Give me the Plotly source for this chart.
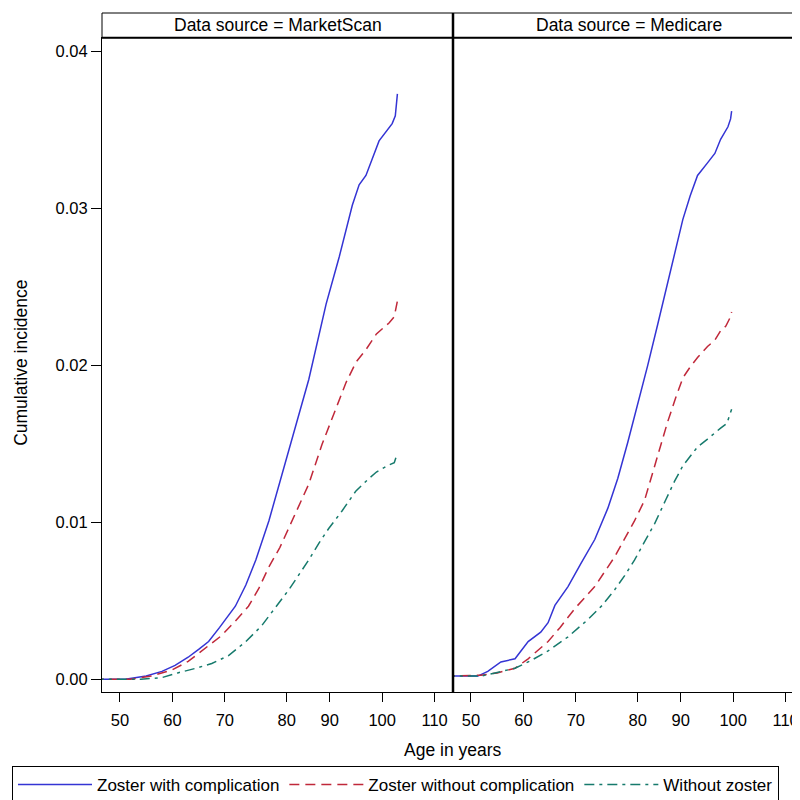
import plotly.graph_objects as go
from plotly.subplots import make_subplots

# ---------------- data ----------------
panels = ["MarketScan", "Medicare"]
series_names = ["Zoster with complication", "Zoster without complication", "Without zoster"]

# MarketScan
ms_blue_age = [45, 51, 55, 58, 60.5, 63, 65, 66.9, 69, 72, 74, 75.9, 78.4, 79.5, 82, 84, 86,
               89.3, 91.8, 94.3, 95.6, 96.9, 98.5, 99.4, 101.9, 102.5, 102.9]
ms_blue_val = [0, 0, 0.0002, 0.0005, 0.00088, 0.0014, 0.0019, 0.0024, 0.0033, 0.00465, 0.006,
               0.0076, 0.0101, 0.0114, 0.0144, 0.0168, 0.0191, 0.0239, 0.0269, 0.0302, 0.0315,
               0.0321, 0.0335, 0.0343, 0.0354, 0.0359, 0.0373]
ms_red_age = [45, 52, 56, 60, 63, 66, 69.3, 72, 74.5, 76.5, 78.4, 80.5, 82.2, 84, 86, 88.5,
              91.2, 93.1, 95, 96.9, 98.9, 101.3, 102.3, 102.9]
ms_red_val = [0, 0, 0.0002, 0.0006, 0.00113, 0.0019, 0.00276, 0.0037, 0.00465, 0.0058, 0.00716,
              0.0084, 0.00967, 0.011, 0.01243, 0.01494, 0.0172, 0.0189, 0.0202, 0.021, 0.0220,
              0.0227, 0.0231, 0.0241]
ms_green_age = [45, 54, 58, 61, 64.4, 67.5, 70.7, 74, 77, 79.5, 82.2, 84, 86, 88, 89.8, 92.3,
                93.7, 95, 97.5, 98.9, 101, 102.3, 102.9]
ms_green_val = [0, 0, 0.0001, 0.0004, 0.00069, 0.001, 0.0015, 0.0024, 0.0034, 0.0045, 0.0057,
                0.0066, 0.0076, 0.0087, 0.0096, 0.0107, 0.0114, 0.012, 0.0128, 0.0132, 0.0136,
                0.0138, 0.0144]

# Medicare
mc_blue_age = [45, 51.3, 53.2, 55.7, 58.4, 59.5, 60.9, 63.3, 64.7, 66, 68.5, 71, 73.6, 76.1, 78,
               79.9, 81.8, 83.7, 85.6, 87.5, 89, 90.4, 91.8, 93.2, 95.1, 96.5, 97.6, 99, 99.5, 99.7]
mc_blue_val = [0.0002, 0.0002, 0.0005, 0.0011, 0.0013, 0.0018, 0.0024, 0.003, 0.0036, 0.0047,
               0.0059, 0.0074, 0.0089, 0.0109, 0.0128, 0.0151, 0.0175, 0.0200, 0.0226, 0.0252,
               0.0273, 0.0293, 0.0308, 0.0321, 0.0329, 0.0335, 0.0344, 0.0352, 0.0357, 0.0362]
mc_red_age = [45, 51.9, 55, 58.4, 60.9, 64.7, 67, 69.8, 73.6, 77.4, 81.2, 83.1, 85.3, 87.5, 89,
              90.4, 91.8, 93.2, 95.1, 96.5, 97.6, 98.6, 99.5, 99.7]
mc_red_val = [0.0002, 0.00025, 0.0004, 0.0007, 0.0013, 0.0024, 0.0033, 0.0045, 0.0059, 0.0078,
              0.0101, 0.0114, 0.0139, 0.0164, 0.0179, 0.0192, 0.0199, 0.0205, 0.0212, 0.0216,
              0.0222, 0.0225, 0.0231, 0.0234]
mc_green_age = [45, 52, 54.6, 58.4, 61.5, 64.7, 68.5, 72.3, 75, 77.4, 79.3, 81.2, 83, 85, 87.1,
                88.8, 90.4, 91.8, 93.2, 95.1, 96.1, 97.6, 98.8, 99.7]
mc_green_val = [0.0002, 0.0002, 0.0004, 0.0007, 0.0012, 0.0018, 0.0027, 0.0038, 0.0047, 0.0057,
                0.0066, 0.0076, 0.0087, 0.0099, 0.0114, 0.0126, 0.0136, 0.0142, 0.0148, 0.0153,
                0.0156, 0.016, 0.0163, 0.0172]

x_tick_text = ["50", "60", "70", "80", "90", "100", "110"]
x_tick_pos = [50, 60, 70, 81.8, 90, 100, 110]
y_tick_vals = [0.00, 0.01, 0.02, 0.03, 0.04]
y_tick_text = ["0.00", "0.01", "0.02", "0.03", "0.04"]

# ---------------- style ----------------
colors = ["#3434D4", "#C0283A", "#167A6C"]
dashes = ["solid", "10px,6px", "10px,5px,3px,5px"]
FONT = "Liberation Sans, Arial, sans-serif"

W, H = 800, 800
ML, MR, MT, MB = 94, 4, 5, 106
plot_w = W - ML - MR
plot_h = H - MT - MB
header_px = 25
y_dom_top = (plot_h - header_px) / plot_h

fig = make_subplots(rows=1, cols=2, shared_yaxes=True, horizontal_spacing=0)

data = [
    [(ms_blue_age, ms_blue_val), (ms_red_age, ms_red_val), (ms_green_age, ms_green_val)],
    [(mc_blue_age, mc_blue_val), (mc_red_age, mc_red_val), (mc_green_age, mc_green_val)],
]

for p, panel in enumerate(data):
    for s, (xa, ya) in enumerate(panel):
        fig.add_trace(go.Scatter(
            x=xa, y=ya, mode="lines", name=series_names[s],
            line=dict(color=colors[s], width=1.5, dash=dashes[s]),
            showlegend=(p == 0), legendgroup=series_names[s],
        ), row=1, col=p + 1)

xrange = [46.57, 113.5]
yrange = [-0.000816, 0.04088]
axis_font = dict(family=FONT, size=16.5, color="#000")
for c in (1, 2):
    fig.update_xaxes(range=xrange, tickvals=x_tick_pos, ticktext=x_tick_text,
                     ticks="outside", ticklen=9, tickwidth=1, tickcolor="#000",
                     showline=True, linecolor="#000", linewidth=1, mirror=True,
                     showgrid=False, zeroline=False, tickfont=axis_font,
                     ticklabelstandoff=4, row=1, col=c)
    fig.update_yaxes(range=yrange, domain=[0, y_dom_top], showgrid=False, zeroline=False,
                     showline=True, linecolor="#000", linewidth=1, mirror=True,
                     row=1, col=c)
fig.update_yaxes(tickvals=y_tick_vals, ticktext=y_tick_text, ticks="outside", ticklen=10,
                 tickcolor="#000", tickfont=axis_font, row=1, col=1)
fig.update_yaxes(ticks="", showticklabels=False, row=1, col=2)

# header strips
shapes = []
for i, panel in enumerate(panels):
    x0 = i * 0.5
    x1 = x0 + 0.5
    shapes.append(dict(type="rect", xref="paper", yref="paper", x0=x0, x1=x1,
                       y0=y_dom_top, y1=1, line=dict(color="#000", width=1), fillcolor="white",
                       layer="below"))
    fig.add_annotation(text=f"Data source = {panel}", xref="paper", yref="paper",
                       x=(x0 + x1) / 2, y=(y_dom_top + 1) / 2, showarrow=False,
                       font=dict(family=FONT, size=17.5, color="#000"),
                       xanchor="center", yanchor="middle")
shapes.append(dict(type="line", xref="paper", yref="paper", x0=0, x1=1,
                   y0=y_dom_top, y1=y_dom_top, line=dict(color="#000", width=2)))
shapes.append(dict(type="line", xref="paper", yref="paper", x0=0.5, x1=0.5,
                   y0=0, y1=1, line=dict(color="#000", width=2.5)))

# axis titles
fig.add_annotation(text="Age in years", xref="paper", yref="paper", x=0.5,
                   y=-(753 - (H - MB)) / plot_h, showarrow=False,
                   font=dict(family=FONT, size=17.5, color="#000"),
                   xanchor="center", yanchor="middle")
fig.add_annotation(text="Cumulative incidence", xref="paper", yref="paper",
                   x=-(ML - 13) / plot_w, y=(H - MB - 360) / plot_h, textangle=-90,
                   showarrow=False, font=dict(family=FONT, size=17.5, color="#000"),
                   xanchor="center", yanchor="middle")

fig.update_layout(
    width=W, height=H,
    margin=dict(l=ML, r=MR, t=MT, b=MB),
    paper_bgcolor="white", plot_bgcolor="white",
    shapes=shapes,
    showlegend=True,
    legend=dict(orientation="h", xref="paper", yref="paper",
                x=(4 - ML) / plot_w, y=-(769 - (H - MB)) / plot_h,
                xanchor="left", yanchor="top",
                bordercolor="#000", borderwidth=1, bgcolor="white",
                font=dict(family=FONT, size=17, color="#000"),
                itemwidth=74, tracegroupgap=0, traceorder="normal"),
)

fig.write_html("out.html")
